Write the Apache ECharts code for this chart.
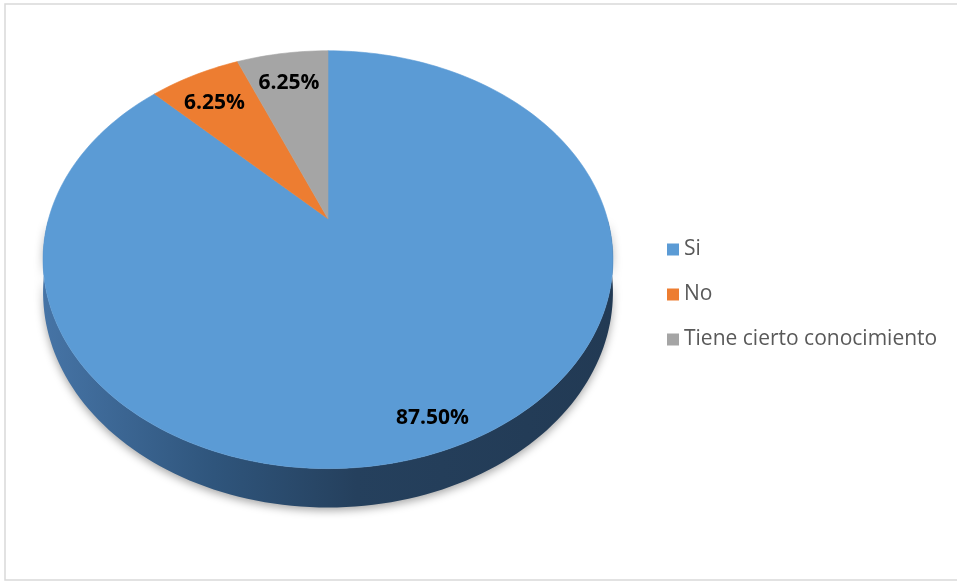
<!DOCTYPE html>
<html>
<head>
<meta charset="utf-8">
<script src="https://cdn.jsdelivr.net/npm/echarts@6/dist/echarts.min.js"></script>
<style>
  html, body { margin: 0; padding: 0; background: #ffffff; }
  #chart { width: 957px; height: 582px; }
</style>
</head>
<body>
<div id="chart"></div>
<script>
// Survey answers and their shares
const categories = ['Si', 'No', 'Tiene cierto conocimiento'];
const values = [87.5, 6.25, 6.25];
const percentLabels = ['87.50%', '6.25%', '6.25%'];

// Face colours and the darker shading used on the slab edge
const colors = ['#5B9BD5', '#ED7D31', '#A5A5A5'];
const edgeStops = [
  ['#4674a6', '#2f557c', '#25405d', '#223a54'],
  ['#b3591f', '#8e4516', '#7a3b12', '#733711'],
  ['#7e7e7e', '#656565', '#585858', '#525252']
];

// 3-D look: foreshortening of the far half and slab thickness (radius units)
const TILT = 0.196;
const DEPTH = 0.156;
const LABEL_R = 0.83;
const STEP = 1.5; // degrees per polygon segment

const total = values.reduce((a, b) => a + b, 0);
const startAngles = [];
values.reduce((acc, v, i) => { startAngles[i] = acc / total * 360; return acc + v; }, 0);

// Angle in degrees, clockwise from 12 o'clock; drop lowers the point by the slab depth.
function project(theta, r, drop) {
  const t = theta * Math.PI / 180;
  const u = r * Math.sin(t);
  const v = r * Math.cos(t);
  const w = 1 + TILT * v;
  return [u / w, (v - drop) / w];
}

function arc(api, a0, a1, drop) {
  const pts = [];
  const n = Math.max(1, Math.ceil((a1 - a0) / STEP));
  for (let k = 0; k <= n; k++) {
    const a = a0 + (a1 - a0) * k / n;
    pts.push(api.coord(project(a, 1, drop)));
  }
  return pts;
}

function topItem(params, api) {
  const i = api.value(0);
  const a0 = startAngles[i];
  const a1 = a0 + values[i] / total * 360;
  const pts = [api.coord(project(0, 0, 0))].concat(arc(api, a0, a1, 0));
  const mid = (a0 + a1) / 2;
  const lp = api.coord(project(mid, LABEL_R, 0));
  // labels on the near side sit a little lower, toward the slab's middle
  const front = (1 - Math.cos(mid * Math.PI / 180)) / 2;
  const shift = 5 + 14 * front;
  return {
    type: 'group',
    children: [
      {
        type: 'polygon',
        shape: { points: pts },
        style: { fill: colors[i], stroke: colors[i], lineWidth: 0.6 }
      },
      {
        type: 'text',
        z2: 10,
        x: lp[0], y: lp[1] + shift,
        style: {
          text: percentLabels[i],
          fill: '#000000',
          font: 'bold 21px "Open Sans", sans-serif',
          align: 'center',
          verticalAlign: 'middle'
        }
      }
    ]
  };
}

function sideItem(params, api) {
  const i = api.value(0);
  const a0 = Math.max(startAngles[i], 90);
  const a1 = Math.min(startAngles[i] + values[i] / total * 360, 270);
  if (a1 <= a0) return null;
  const topArc = arc(api, a0, a1, 0);
  const bottomArc = arc(api, a0, a1, DEPTH).reverse();
  const left = api.coord([-1.02, 0])[0];
  const right = api.coord([1.02, 0])[0];
  const stops = edgeStops[i];
  return {
    type: 'polygon',
    shape: { points: topArc.concat(bottomArc) },
    style: {
      fill: {
        type: 'linear', x: left, y: 0, x2: right, y2: 0, global: true,
        colorStops: [
          { offset: 0, color: stops[0] },
          { offset: 0.3, color: stops[1] },
          { offset: 0.55, color: stops[2] },
          { offset: 1, color: stops[3] }
        ]
      },
      shadowBlur: 9,
      shadowOffsetY: 3,
      shadowColor: 'rgba(0,0,0,0.35)'
    }
  };
}

const chart = echarts.init(document.getElementById('chart'), null, { renderer: 'canvas' });

const series = [{
  type: 'custom',
  name: 'edge',
  coordinateSystem: 'cartesian2d',
  data: values.map((v, i) => [i, v]),
  renderItem: sideItem,
  clip: false,
  silent: true,
  z: 2
}].concat(categories.map((name, i) => ({
  type: 'custom',
  name: name,
  coordinateSystem: 'cartesian2d',
  data: [[i, values[i]]],
  renderItem: topItem,
  itemStyle: { color: colors[i] },
  clip: false,
  z: 3
})));

chart.setOption({
  animation: false,
  backgroundColor: '#ffffff',
  grid: { left: 43, top: 50, width: 570, height: 460, containLabel: false },
  xAxis: { type: 'value', min: -1.02, max: 1.02, show: false },
  yAxis: { type: 'value', min: -1.45, max: 0.84, show: false },
  legend: {
    data: categories,
    orient: 'vertical',
    left: 662,
    top: 234,
    itemWidth: 12,
    itemHeight: 12,
    itemGap: 24,
    icon: 'rect',
    selectedMode: false,
    textStyle: {
      color: '#595959',
      fontSize: 21,
      lineHeight: 21,
      fontFamily: '"Open Sans", sans-serif'
    }
  },
  graphic: [{
    type: 'rect',
    shape: { x: 5, y: 4, width: 960, height: 576 },
    style: { fill: 'none', stroke: '#d9d9d9', lineWidth: 1.5 },
    silent: true
  }],
  series: series
});
</script>
</body>
</html>
